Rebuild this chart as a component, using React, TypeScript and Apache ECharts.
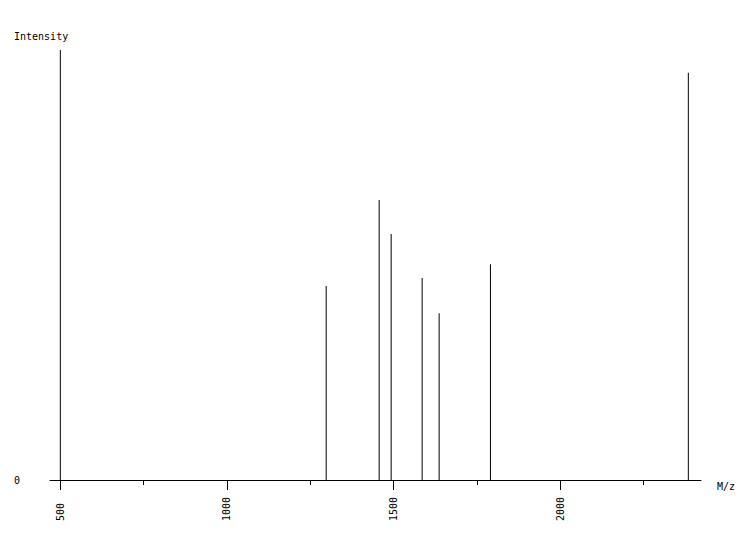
import { useEffect, useRef } from "react";
import * as echarts from "echarts";

// peak positions (m/z) and relative intensity (%)
const mzValues = [500, 1298, 1457, 1493, 1586, 1637, 1791, 2385];
const intensities = [100, 45.1, 65.1, 57.2, 47.0, 38.8, 50.2, 94.7];

// axis ticks
const majorTicks = [500, 1000, 1500, 2000];
const minorTicks = [750, 1250, 1750, 2250];
const yLabels = [0];

const xMin = 469;
const xMax = 2423;

const FONT = "DejaVu Sans Mono";

export default function App() {
  const chartRef = useRef<HTMLDivElement>(null);

  useEffect(() => {
    if (!chartRef.current) return;
    const chart = echarts.init(chartRef.current, null, { renderer: "svg" });

    chart.setOption({
      animation: false,
      backgroundColor: "#fff",
      title: {
        text: "Intensity",
        left: 14,
        top: 31,
        padding: 0,
        textStyle: { fontFamily: FONT, fontSize: 10, fontWeight: "normal", color: "#000" },
      },
      grid: { left: 50, right: 49, top: 50, bottom: 60 },
      xAxis: [
        {
          type: "value",
          min: xMin,
          max: xMax,
          name: "M/z",
          nameLocation: "end",
          nameGap: 16,
          nameTextStyle: {
            fontFamily: FONT,
            fontSize: 10,
            color: "#000",
            align: "left",
            verticalAlign: "top",
            padding: [1, 0, 0, 0],
          },
          axisLine: { show: true, onZero: false, lineStyle: { color: "#000", width: 1 } },
          axisTick: { show: true, length: 10, customValues: majorTicks, lineStyle: { color: "#000" } },
          axisLabel: {
            customValues: majorTicks,
            formatter: (v: number) => String(v),
            rotate: 90,
            align: "left",
            margin: 41,
            fontFamily: FONT,
            fontSize: 10,
            color: "#000",
          },
          splitLine: { show: false },
        },
        {
          type: "value",
          position: "bottom",
          min: xMin,
          max: xMax,
          axisLine: { show: false },
          axisTick: { show: true, length: 5, customValues: minorTicks, lineStyle: { color: "#000" } },
          axisLabel: { show: false },
          splitLine: { show: false },
        },
      ],
      yAxis: {
        type: "value",
        min: 0,
        max: 100,
        axisLine: { show: false },
        axisTick: { show: false },
        splitLine: { show: false },
        axisLabel: {
          customValues: yLabels,
          formatter: (v: number) => String(v),
          margin: 30,
          fontFamily: FONT,
          fontSize: 10,
          color: "#000",
        },
      },
      series: [
        {
          type: "bar",
          xAxisIndex: 0,
          barWidth: 1,
          itemStyle: { color: "#000" },
          data: mzValues.map((m, i) => [m, intensities[i]]),
          emphasis: { disabled: true },
        },
      ],
    });

    return () => chart.dispose();
  }, []);

  return (
    <div
      ref={chartRef}
      style={{ position: "fixed", left: 0, top: 0, width: 750, height: 540, background: "#fff" }}
    />
  );
}
